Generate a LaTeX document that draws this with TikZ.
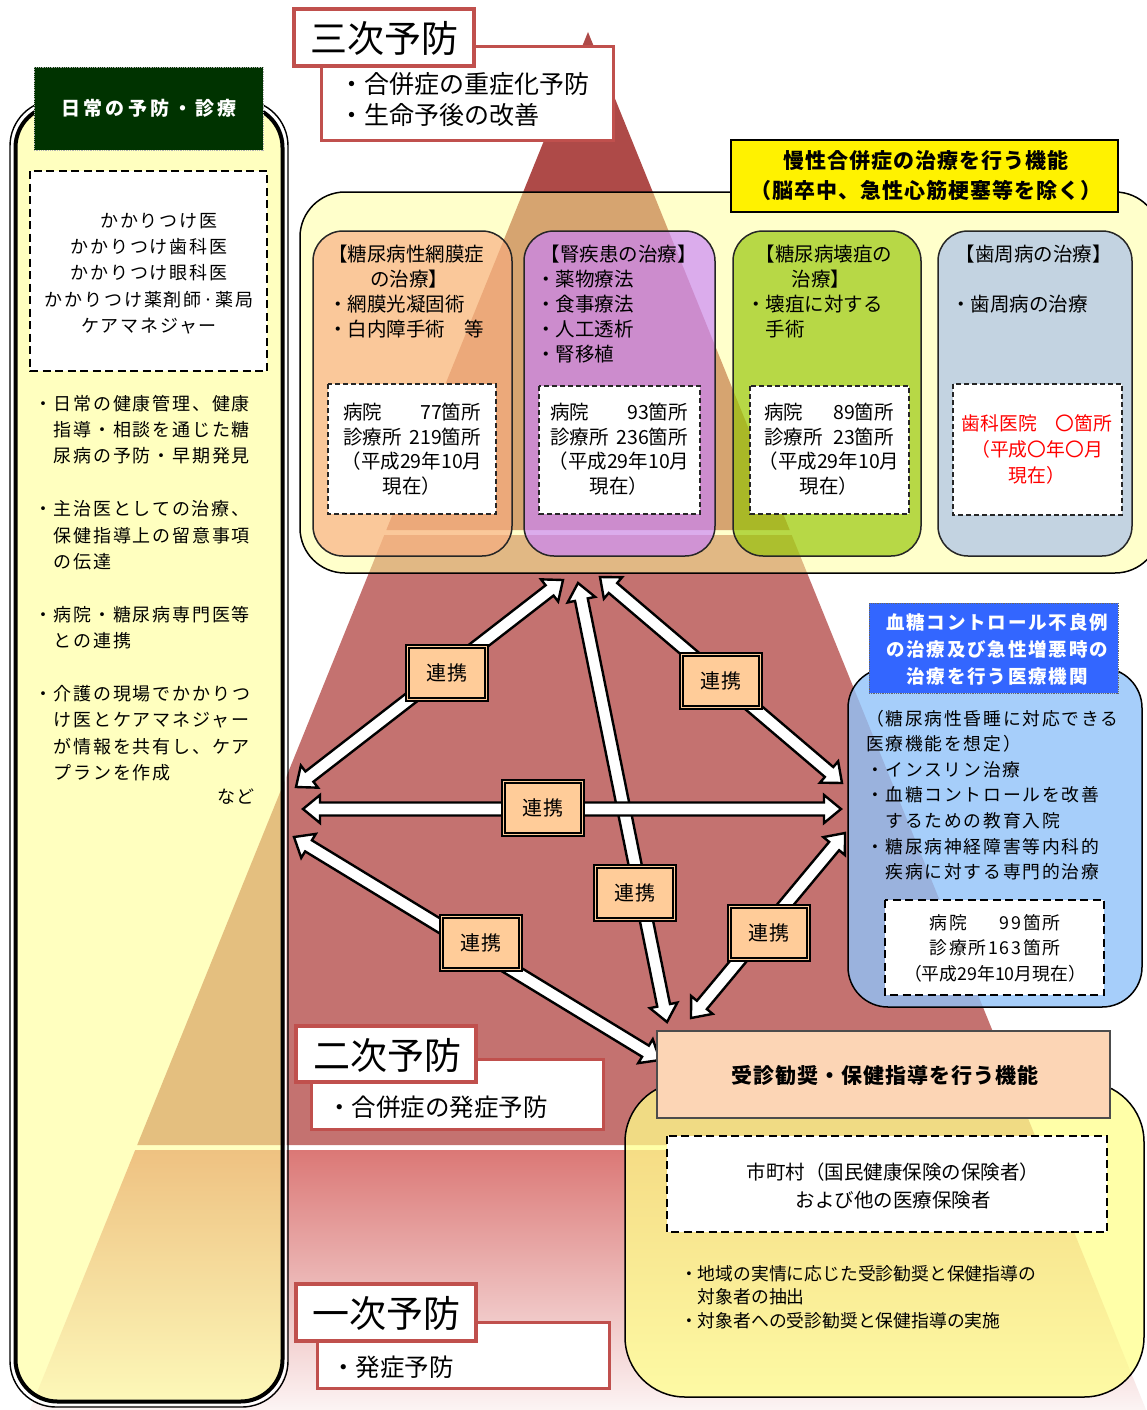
\documentclass[tikz,border=0pt]{standalone}
\usepackage{fontspec}
\setmainfont{Noto Sans CJK JP}
\newfontfamily\jpw[LetterSpace=10]{Noto Sans CJK JP}
\newfontfamily\jpm[LetterSpace=5]{Noto Sans CJK JP}
\newfontfamily\jph[LetterSpace=18]{Noto Sans CJK JP}
\usetikzlibrary{calc}
\definecolor{band3}{RGB}{174,74,72}
\definecolor{band2}{RGB}{196,114,112}
\definecolor{band1t}{RGB}{219,120,118}
\definecolor{band1b}{RGB}{252,244,244}
\definecolor{lblred}{RGB}{192,80,77}
\definecolor{panelY}{RGB}{255,255,140}
\definecolor{regionY}{RGB}{255,255,153}
\definecolor{orgC}{RGB}{248,172,128}
\definecolor{purC}{RGB}{200,128,255}
\definecolor{grnC}{RGB}{145,196,0}
\definecolor{gryC}{RGB}{163,188,237}
\definecolor{bluC}{RGB}{144,194,249}
\definecolor{botY}{RGB}{255,255,140}
\definecolor{peach}{RGB}{252,213,181}
\definecolor{linkO}{RGB}{255,204,153}
\definecolor{hdrG}{RGB}{0,51,0}
\definecolor{hdrB}{RGB}{51,102,255}
\newcommand\fsz[2]{\fontsize{#1}{#2}\selectfont}
\newcommand\lnkarrow[2]{%
  \coordinate (ba1) at ($(#1)!17pt!(#2)$);
  \coordinate (ba2) at ($(#2)!17pt!(#1)$);
  \draw[arrowbody] (#1) -- ($(ba1)!14pt!90:(#2)$) -- ($(ba1)!6.5pt!90:(#2)$)
    -- ($(ba2)!6.5pt!-90:(#1)$) -- ($(ba2)!14pt!-90:(#1)$) -- (#2)
    -- ($(ba2)!14pt!90:(#1)$) -- ($(ba2)!6.5pt!90:(#1)$)
    -- ($(ba1)!6.5pt!-90:(#2)$) -- ($(ba1)!14pt!-90:(#2)$) -- cycle;}
\begin{document}
\begin{tikzpicture}[x=1pt,y=-1pt,
  txt/.style={inner sep=0pt, outer sep=0pt},
  arrowbody/.style={fill=white, draw=black, line width=2.4pt, line join=miter},
  linkbox/.style={draw=black, line width=1.5pt, double=linkO, double distance=1.8pt, fill=linkO, minimum width=79pt, minimum height=53pt, inner sep=0pt, font=\jpm\fsz{20}{20}},
  lbl/.style={fill=white, draw=lblred, line width=3.5pt},
  sublbl/.style={fill=white, draw=lblred, line width=3pt},
  dashbig/.style={fill=white, draw=black, line width=2.8pt, dash pattern=on 8pt off 4.5pt},
  dashsm/.style={fill=white, draw=black!85, line width=1.4pt, dash pattern=on 5pt off 3pt},
  cbox/.style={draw=black!85, line width=1.5pt, rounded corners=30pt, fill opacity=0.65},
]
\useasboundingbox (0,0) rectangle (1147,1410);
\fill[white] (0,0) rectangle (1147,1410);
% pyramid
\fill[band3] (588,32) -- (386.3,530) -- (789.7,530) -- cycle;
\fill[band2] (384.3,535) -- (791.7,535) -- (1038.8,1145) -- (137.2,1145) -- cycle;
\shade[top color=band1t, bottom color=band1b] (135.2,1150) -- (1040.8,1150) -- (1146.1,1410) -- (29.9,1410) -- cycle;
% left panel
\fill[panelY, fill opacity=0.55, rounded corners=42] (15.5,105.5) rectangle (282.5,1401.5);
\draw[black, line width=1.4, rounded corners=46] (10,100) rectangle (288,1407);
\draw[white, line width=2.4, rounded corners=44] (12.5,102.5) rectangle (285.5,1404.5);
\draw[black, line width=4, rounded corners=42] (15.5,105.5) rectangle (282.5,1401.5);
\filldraw[fill=hdrG, draw=gray!60, densely dotted, line width=0.8] (34,67) rectangle (263,150);
\node[txt, text=white, font=\jph\bfseries\fsz{19}{19}] (hdr) at (149,108) {日常の予防・診療};
\draw[dashbig] (30,171) rectangle (267,371);
\node[txt, anchor=north, align=center, font=\jpw\fsz{18}{26.25}] (kak) at (149,209) {\strut　かかりつけ医\\かかりつけ歯科医\\かかりつけ眼科医\\かかりつけ薬剤師·薬局\\ケアマネジャー};
\node[txt, anchor=north west, align=left, font=\jpw\fsz{18}{26.4}] (lpt) at (34,391.7) {\strut・日常の健康管理、健康\\　指導・相談を通じた糖\\　尿病の予防・早期発見\\[26.4pt]・主治医としての治療、\\　保健指導上の留意事項\\　の伝達\\[26.4pt]・病院・糖尿病専門医等\\　との連携\\[26.4pt]・介護の現場でかかりつ\\　け医とケアマネジャー\\　が情報を共有し、ケア\\　プランを作成};
\node[txt, anchor=east, font=\jpw\fsz{18}{18}] (nado) at (255,797) {など};
% chronic complications region
\fill[regionY, fill opacity=0.5, rounded corners=45] (300,192) rectangle (1160,573);
\draw[black, line width=1.5, rounded corners=45] (300,192) rectangle (1160,573);
\filldraw[cbox, fill=orgC] (313,231) rectangle (512,556);
\filldraw[cbox, fill=purC] (524,231) rectangle (715,556);
\filldraw[cbox, fill=grnC] (733,231) rectangle (921,556);
\filldraw[cbox, fill=gryC] (938,231) rectangle (1132,556);
\draw[dashsm] (328,384) rectangle (496,514);
\draw[dashsm] (539,386) rectangle (700,514);
\draw[dashsm] (750,386) rectangle (909,514);
\draw[dashsm] (953,384) rectangle (1122,515);
\node[txt, anchor=north west, align=left, font=\fsz{19.5}{25}] (t1) at (328,244.3) {\strut【糖尿病性網膜症\\\makebox[162pt]{の治療】}\\・網膜光凝固術\\・白内障手術　等};
\node[txt, anchor=north west, align=left, font=\fsz{19.5}{25}] (t2) at (536,244.3) {\strut\makebox[165pt]{【腎疾患の治療】}\\・薬物療法\\・食事療法\\・人工透析\\・腎移植};
\node[txt, anchor=north west, align=left, font=\fsz{19.5}{25}] (t3) at (746,244.3) {\strut\makebox[156pt]{【糖尿病壊疽の}\\\makebox[150pt]{治療】}\\・壊疽に対する\\　手術};
\node[txt, anchor=north west, align=left, font=\fsz{19.5}{25}] (t4) at (951,244.3) {\strut\makebox[165pt]{【歯周病の治療】}\\[25pt]・歯周病の治療};
\node[txt, anchor=north, align=center, font=\fsz{19.5}{24.5}] (d1) at (412,402.6) {\strut\makebox[138pt]{病院\hfill 77箇所}\\\makebox[138pt]{診療所\hfill 219箇所}\\（平成29年10月\\現在）};
\node[txt, anchor=north, align=center, font=\fsz{19.5}{24.5}] (d2) at (619,402.6) {\strut\makebox[138pt]{病院\hfill 93箇所}\\\makebox[138pt]{診療所\hfill 236箇所}\\（平成29年10月\\現在）};
\node[txt, anchor=north, align=center, font=\fsz{19.5}{24.5}] (d3) at (829,402.6) {\strut\makebox[130pt]{病院\hfill 89箇所}\\\makebox[130pt]{診療所\hfill 23箇所}\\（平成29年10月\\現在）};
\node[txt, anchor=north, align=center, text=red, font=\fsz{18.8}{26}] (d4) at (1037,412.3) {\strut 歯科医院　〇箇所\\（平成〇年〇月\\現在）};
% arrows
\coordinate (aTL) at (563,580);
\coordinate (aL1) at (296,787);
\coordinate (aT) at (578,583);
\coordinate (aB1) at (667,1022);
\coordinate (aTR) at (600,577);
\coordinate (aR1) at (842,783);
\coordinate (aL2) at (303,809);
\coordinate (aR2) at (841,809);
\coordinate (aL3) at (294,837);
\coordinate (aB2) at (660,1060);
\coordinate (aR3) at (845,833);
\coordinate (aB3) at (691,1018);
\lnkarrow{aL1}{aTL}
\lnkarrow{aT}{aB1}
\lnkarrow{aTR}{aR1}
\lnkarrow{aL2}{aR2}
\lnkarrow{aL3}{aB2}
\lnkarrow{aR3}{aB3}
\node[linkbox] (k1) at (447,673) {連携};
\node[linkbox] (k2) at (721,681) {連携};
\node[linkbox] (k3) at (543,808) {連携};
\node[linkbox] (k4) at (635,893) {連携};
\node[linkbox] (k5) at (481,943) {連携};
\node[linkbox] (k6) at (769,933) {連携};
% blue box
\filldraw[fill=bluC, fill opacity=0.8, draw=black, line width=1.5, rounded corners=40] (848,668) rectangle (1142,1007);
\filldraw[fill=hdrB, draw=black!60, densely dotted, line width=0.8] (869,603) rectangle (1118,693);
\node[txt, anchor=north, align=center, text=white, font=\jpw\bfseries\fsz{18.5}{27}] (bt) at (997,610.5) {\strut 血糖コントロール不良例\\の治療及び急性増悪時の\\治療を行う医療機関};
\node[txt, anchor=north west, align=left, font=\jpw\fsz{17.8}{25.6}] (bb) at (866,707.2) {\strut（糖尿病性昏睡に対応できる\\医療機能を想定）\\・インスリン治療\\・血糖コントロールを改善\\　するための教育入院\\・糖尿病神経障害等内科的\\　疾病に対する専門的治療};
\draw[dashbig] (885,900) rectangle (1104,995);
\node[txt, anchor=north, align=center, font=\fsz{17.8}{25.5}] (bd) at (995,911.3) {\strut{\jpw\makebox[131pt]{病院\hfill 99箇所}}\\{\jpw 診療所163箇所}\\（平成29年10月現在）};
% bottom right
\filldraw[fill=botY, fill opacity=0.75, draw=black, line width=1.5, rounded corners=60] (625,1082) rectangle (1144,1397);
\filldraw[fill=peach, draw=black!70, line width=1.3] (657,1031) rectangle (1110,1118);
\node[txt, font=\jpm\bfseries\fsz{21}{21}] (jt) at (885,1075) {受診勧奨・保健指導を行う機能};
\draw[dashbig] (667,1136) rectangle (1107,1232);
\node[txt, anchor=north, align=center, font=\fsz{19.5}{28}] (jd) at (893,1160.2) {\strut 市町村（国民健康保険の保険者）\\および他の医療保険者};
\node[txt, anchor=north west, align=left, font=\fsz{17.8}{23.5}] (jb) at (680,1263.7) {\strut・地域の実情に応じた受診勧奨と保健指導の\\　対象者の抽出\\・対象者への受診勧奨と保健指導の実施};
% labels
\draw[sublbl] (321,47) rectangle (613,140);
\draw[lbl] (294,9) rectangle (474,66);
\node[txt, font=\fsz{37}{37}] (l3) at (384,38) {三次予防};
\node[txt, anchor=north west, align=left, font=\fsz{25}{31}] (l3t) at (339,72.2) {\strut・合併症の重症化予防\\・生命予後の改善};
\draw[sublbl] (311,1059) rectangle (603,1129);
\draw[lbl] (296,1026) rectangle (476,1082);
\node[txt, font=\fsz{37}{37}] (l2) at (387,1055) {二次予防};
\node[txt, anchor=west, font=\fsz{24.5}{24.5}] (l2t) at (327,1107) {・合併症の発症予防};
\draw[sublbl] (317,1322) rectangle (609,1388);
\draw[lbl] (296,1284) rectangle (476,1341);
\node[txt, font=\fsz{37}{37}] (l1) at (386,1313) {一次予防};
\node[txt, anchor=west, font=\fsz{24.5}{24.5}] (l1t) at (331,1367) {・発症予防};
% yellow title
\filldraw[fill=yellow, draw=black, line width=1.8] (731,140) rectangle (1118,212);
\node[txt, anchor=north, align=center, font=\jpm\bfseries\fsz{21}{30}] (yt) at (926,147.4) {\strut 慢性合併症の治療を行う機能\\（脳卒中、急性心筋梗塞等を除く）};
\end{tikzpicture}
\end{document}
